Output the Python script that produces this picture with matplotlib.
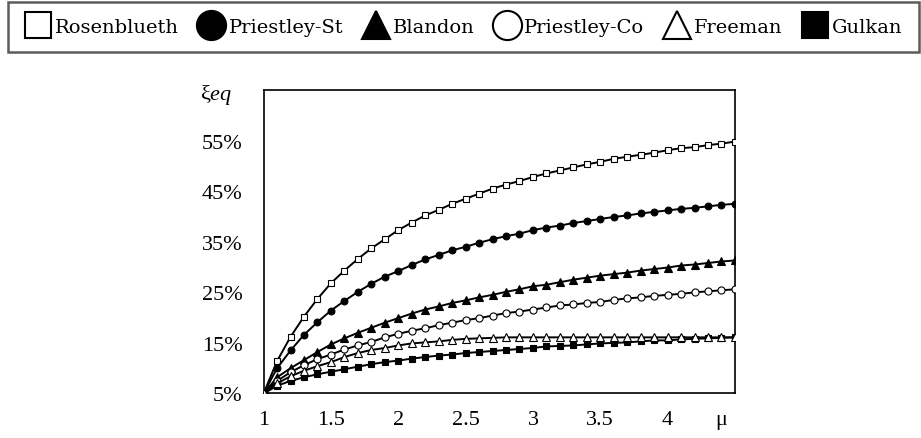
"""Equivalent damping ratio vs ductility for six approximate models."""

import matplotlib

matplotlib.use("Agg")
import matplotlib.pyplot as plt
from matplotlib.lines import Line2D

# ductility mu
mu = [1.0, 1.1, 1.2, 1.3, 1.4, 1.5, 1.6, 1.7, 1.8, 1.9,
      2.0, 2.1, 2.2, 2.3, 2.4, 2.5, 2.6, 2.7, 2.8, 2.9,
      3.0, 3.1, 3.2, 3.3, 3.4, 3.5, 3.6, 3.7, 3.8, 3.9,
      4.0, 4.1, 4.2, 4.3, 4.4, 4.5]

# equivalent damping, percent
rosenblueth = [5.0, 11.4, 16.2, 20.2, 23.7, 26.8, 29.3, 31.6, 33.7, 35.5,
               37.3, 38.8, 40.2, 41.3, 42.5, 43.5, 44.5, 45.5, 46.3, 47.0,
               47.8, 48.5, 49.1, 49.7, 50.3, 50.8, 51.4, 51.8, 52.2, 52.6,
               53.1, 53.5, 53.7, 54.1, 54.4, 54.8]
priestley_st = [5.0, 10.0, 13.5, 16.6, 19.1, 21.4, 23.3, 25.1, 26.7, 28.1,
                29.2, 30.4, 31.5, 32.4, 33.3, 34.0, 34.8, 35.5, 36.1, 36.6,
                37.3, 37.8, 38.2, 38.7, 39.1, 39.5, 39.9, 40.2, 40.6, 40.9,
                41.2, 41.5, 41.7, 42.0, 42.3, 42.5]
blandon = [5.0, 8.2, 10.0, 11.6, 13.2, 14.7, 15.9, 17.0, 18.0, 19.0,
           19.9, 20.8, 21.6, 22.2, 22.9, 23.4, 24.0, 24.5, 25.1, 25.6,
           26.2, 26.5, 27.0, 27.5, 27.9, 28.3, 28.6, 28.9, 29.3, 29.6,
           29.9, 30.3, 30.5, 30.8, 31.1, 31.3]
priestley_co = [5.0, 7.5, 9.2, 10.6, 11.8, 12.7, 13.7, 14.5, 15.2, 16.1,
                16.8, 17.4, 17.9, 18.5, 19.0, 19.5, 19.9, 20.4, 20.9, 21.2,
                21.6, 22.0, 22.4, 22.6, 22.9, 23.1, 23.5, 23.8, 24.0, 24.3,
                24.5, 24.7, 25.0, 25.2, 25.4, 25.6]
freeman = [5.0, 7.0, 8.4, 9.5, 10.4, 11.2, 12.2, 13.0, 13.6, 14.0,
           14.5, 14.9, 15.1, 15.3, 15.6, 15.8, 15.9, 16.0, 16.1, 16.1,
           16.1, 16.1, 16.1, 16.1, 16.1, 16.1, 16.1, 16.1, 16.1, 16.1,
           16.1, 16.1, 16.1, 16.1, 16.1, 16.1]
gulkan = [5.0, 6.5, 7.5, 8.2, 8.8, 9.3, 9.8, 10.3, 10.8, 11.2,
          11.5, 11.9, 12.2, 12.5, 12.7, 13.0, 13.2, 13.4, 13.6, 13.8,
          14.0, 14.3, 14.4, 14.5, 14.7, 14.9, 15.0, 15.1, 15.3, 15.5,
          15.5, 15.7, 15.8, 15.9, 16.0, 16.1]

x_ticks = [1, 1.5, 2, 2.5, 3, 3.5, 4]
x_tick_labels = ["1", "1.5", "2", "2.5", "3", "3.5", "4"]
y_ticks = [5, 15, 25, 35, 45, 55]
y_tick_labels = ["5%", "15%", "25%", "35%", "45%", "55%"]

# name, values, marker, face colour, plot marker size, legend marker size, zorder
series = [
    ("Rosenblueth", rosenblueth, "s", "white", 4.3, 19, 3),
    ("Priestley-St", priestley_st, "o", "black", 4.9, 21, 3),
    ("Blandon", blandon, "^", "black", 5.1, 20, 3),
    ("Priestley-Co", priestley_co, "o", "white", 5.1, 21, 3),
    ("Freeman", freeman, "^", "white", 5.1, 20, 4),
    ("Gulkan", gulkan, "s", "black", 4.3, 19, 3),
]

plt.rcParams["font.family"] = ["Liberation Serif", "DejaVu Serif"]
plt.rcParams["mathtext.fontset"] = "custom"
plt.rcParams["mathtext.it"] = "Liberation Serif:italic"
plt.rcParams["mathtext.rm"] = "Liberation Serif"

fig = plt.figure(figsize=(9.21, 4.39), dpi=100)
ax = fig.add_axes([0.2862, 0.1014, 0.5118, 0.6913])

for name, vals, marker, face, ms, _, z in series:
    ax.plot(mu, vals, color="black", lw=1.4, marker=marker, ms=ms,
            mfc=face, mec="black", mew=0.8, zorder=z)

ax.set_xlim(1, 4.5)
ax.set_ylim(5, 65)
ax.set_xticks(x_ticks)
ax.set_xticklabels(x_tick_labels)
ax.set_yticks(y_ticks)
ax.set_yticklabels(y_tick_labels)
ax.tick_params(axis="both", length=0, labelsize=16)
ax.tick_params(axis="x", pad=12)
ax.tick_params(axis="y", pad=15)
for spine in ax.spines.values():
    spine.set_linewidth(1.2)
    spine.set_color("black")

# axis names sit in the tick-label rows
ax.annotate("μ", xy=(4.4, 0), xycoords=("data", "axes fraction"),
            xytext=(0, -12), textcoords="offset points",
            ha="center", va="top", fontsize=16)
ax.annotate("ξ$\\mathit{eq}$", xy=(0, 63.2), xycoords=("axes fraction", "data"),
            xytext=(-22.5, 0), textcoords="offset points",
            ha="right", va="baseline", fontsize=16)

handles = [
    Line2D([], [], linestyle="none", marker=marker, markersize=lms,
           markerfacecolor=face, markeredgecolor="black", markeredgewidth=1.5)
    for _, _, marker, face, _, lms, _ in series
]
labels = [s[0] for s in series]
leg = fig.legend(handles, labels, loc="upper left",
                 bbox_to_anchor=(8 / 921, 1 - 3 / 439), ncol=6,
                 frameon=True, fancybox=False, edgecolor="#333333",
                 prop={"family": "DejaVu Serif", "size": 14},
                 handlelength=1.4, handletextpad=0.2, columnspacing=0.95,
                 borderpad=0.83, borderaxespad=0)
leg.get_frame().set_linewidth(1.8)

fig.savefig("out.png", dpi=100)
plt.close(fig)
